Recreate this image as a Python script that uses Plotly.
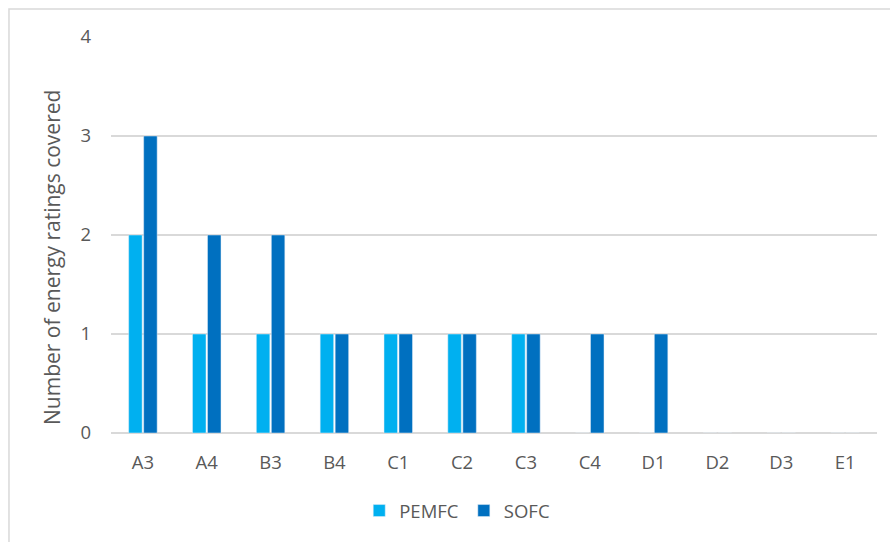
import plotly.graph_objects as go

categories = ["A3", "A4", "B3", "B4", "C1", "C2", "C3", "C4", "D1", "D2", "D3", "E1"]
pemfc = [2, 1, 1, 1, 1, 1, 1, 0, 0, 0, 0, 0]
sofc = [3, 2, 2, 1, 1, 1, 1, 1, 1, 0, 0, 0]

text_color = "#595959"
grid_color = "#D9D9D9"
font_family = "Open Sans, Liberation Sans, sans-serif"

fig = go.Figure()
fig.add_trace(go.Bar(x=categories, y=pemfc, name="PEMFC", marker_color="#00B0F0"))
fig.add_trace(go.Bar(x=categories, y=sofc, name="SOFC", marker_color="#0070C0"))

fig.update_layout(
    width=890,
    height=542,
    margin=dict(l=111, r=13, t=37, b=109),
    paper_bgcolor="white",
    plot_bgcolor="white",
    barmode="group",
    bargap=0.53,
    bargroupgap=0.1,
    font=dict(family=font_family, color=text_color, size=18.5),
    showlegend=True,
    legend=dict(
        orientation="h",
        x=0.452,
        y=-0.197,
        xanchor="center",
        yanchor="middle",
        font=dict(size=18.5, color=text_color),
        itemwidth=30,
    ),
    xaxis=dict(
        showgrid=False,
        showline=False,
        ticks="",
        ticklabelstandoff=16,
        tickfont=dict(size=18.5, color=text_color),
    ),
    yaxis=dict(
        range=[0, 4],
        dtick=1,
        showgrid=True,
        gridcolor=grid_color,
        gridwidth=1.5,
        zeroline=True,
        zerolinecolor=grid_color,
        zerolinewidth=1.5,
        showline=False,
        ticks="",
        ticklabelstandoff=19,
        tickfont=dict(size=18.5, color=text_color),
    ),
    annotations=[
        dict(
            text="Number of energy ratings covered",
            xref="paper",
            yref="paper",
            x=-0.077,
            y=0.442,
            xanchor="center",
            yanchor="middle",
            textangle=-90,
            showarrow=False,
            font=dict(size=21, color=text_color),
        )
    ],
    shapes=[
        dict(
            type="rect",
            xref="paper",
            yref="paper",
            x0=-0.1332,
            x1=1.5,
            y0=-1.0,
            y1=1.0707,
            line=dict(color=grid_color, width=1.5),
            fillcolor="rgba(0,0,0,0)",
            layer="below",
        )
    ],
)

fig.write_html("out.html")
